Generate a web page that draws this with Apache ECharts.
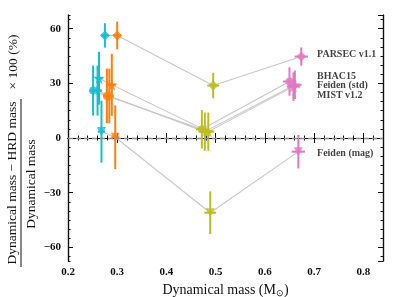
<!DOCTYPE html>
<html><head><meta charset="utf-8">
<script src="https://cdn.jsdelivr.net/npm/echarts@6/dist/echarts.min.js"></script>
<style>html,body{margin:0;padding:0;background:#fff}#c{width:403px;height:297px}</style>
</head><body><div id="c"></div>
<script>
// Models
const models = ['PARSEC v1.1', 'BHAC15', 'Feiden (std)', 'MIST v1.2', 'Feiden (mag)'];
const modelSymbols = ['diamond', 'circle', 'plus', 'star', 'tridown'];
// Stars (components), colours
const starColors = ['#17becf', '#ff7f0e', '#bcbd22', '#e377c2'];
// Dynamical mass per star per model
const massCyan   = [0.275, 0.251, 0.260, 0.263, 0.268];
const massOrange = [0.300, 0.279, 0.284, 0.289, 0.296];
const massOlive  = [0.495, 0.472, 0.478, 0.485, 0.489];
const massPink   = [0.674, 0.650, 0.661, 0.658, 0.668];
// Residual (%) per star per model
const resCyan   = [56.3, 26.0, 26.0, 32.8, 3.5];
const resOrange = [56.3, 23.1, 23.1, 29.2, 0.4];
const resOlive  = [28.8, 4.8, 3.5, 3.5, -41.0];
const resPink   = [44.7, 31.0, 29.2, 28.2, -7.5];
// Errors
const errCyan   = [6.7, 13.7, 13.7, 14.5, 17.0];
const errOrange = [7.6, 15.0, 15.0, 17.0, 17.5];
const errOlive  = [7.0, 10.5, 10.5, 10.5, 11.7];
const errPink   = [5.0, 7.8, 7.8, 7.8, 9.2];
const massErr   = [0.0075, 0.008, 0.012, 0.0135];
// Model label anchors (right-hand annotations)
const labelMass = [0.706, 0.706, 0.706, 0.706, 0.706];
const labelRes  = [45.6, 34.0, 28.6, 23.1, -8.3];
// Axis ticks
const xTicks = [0.2, 0.3, 0.4, 0.5, 0.6, 0.7, 0.8];
const yTicks = [-60, -30, 0, 30, 60];

const masses = [massCyan, massOrange, massOlive, massPink];
const residuals = [resCyan, resOrange, resOlive, resPink];
const errors = [errCyan, errOrange, errOlive, errPink];

const starPath = 'path://M50,0 L61,35 L98,35 L68,57 L79,91 L50,70 L21,91 L32,57 L2,35 L39,35 Z';
const plusPath = 'path://M35,0 L65,0 L65,35 L100,35 L100,65 L65,65 L65,100 L35,100 L35,65 L0,65 L0,35 L35,35 Z';
function sym(s){
  if (s === 'star') return {symbol: starPath, size: 12, rot: 0};
  if (s === 'plus') return {symbol: plusPath, size: 9, rot: 0};
  if (s === 'tridown') return {symbol: 'triangle', size: 9, rot: 180};
  if (s === 'diamond') return {symbol: 'diamond', size: 10, rot: 0};
  return {symbol: 'circle', size: 8, rot: 0};
}

const FONT = 'Liberation Serif';
const tickFmt = v => v < 0 ? '\u2212' + Math.abs(v) : String(v);

const series = [];
// connecting lines
models.forEach((m, mi) => {
  series.push({
    type: 'line', xAxisIndex: 0, yAxisIndex: 0, silent: true, z: 1,
    symbol: 'none',
    lineStyle: {color: '#c8c8c8', width: 1.1},
    data: masses.map((arr, si) => [arr[mi], residuals[si][mi]])
  });
});
// zero line
series.push({
  type: 'line', xAxisIndex: 0, yAxisIndex: 0, data: [], z: 0,
  markLine: {silent: true, symbol: 'none', label: {show: false},
    lineStyle: {color: '#8c8c8c', type: [5, 3], width: 1.4},
    data: [{yAxis: 0}]}
});
// error bars
const errData = [];
masses.forEach((arr, si) => arr.forEach((x, mi) => errData.push([x, residuals[si][mi], massErr[si], errors[si][mi], si])));
series.push({
  type: 'custom', xAxisIndex: 0, yAxisIndex: 0, z: 2,
  data: errData,
  renderItem: function(params, api){
    const x = api.value(0), y = api.value(1), ex = api.value(2), ey = api.value(3), si = api.value(4);
    const c = starColors[si];
    const a = api.coord([x - ex, y]), b = api.coord([x + ex, y]);
    const u = api.coord([x, y + ey]), d = api.coord([x, y - ey]);
    return {type: 'group', children: [
      {type: 'line', shape: {x1: a[0], y1: a[1], x2: b[0], y2: b[1]}, style: {stroke: c, lineWidth: 2}},
      {type: 'line', shape: {x1: u[0], y1: u[1], x2: d[0], y2: d[1]}, style: {stroke: c, lineWidth: 2}}
    ]};
  }
});
// markers
models.forEach((m, mi) => {
  const s = sym(modelSymbols[mi]);
  series.push({
    type: 'scatter', xAxisIndex: 0, yAxisIndex: 0, z: 3,
    symbol: s.symbol, symbolSize: s.size, symbolRotate: s.rot,
    data: masses.map((arr, si) => ({value: [arr[mi], residuals[si][mi]], itemStyle: {color: starColors[si]}}))
  });
});
// model labels
series.push({
  type: 'scatter', xAxisIndex: 0, yAxisIndex: 0, symbolSize: 0, z: 4, silent: true,
  data: models.map((m, i) => ({value: [labelMass[i], labelRes[i]], name: m})),
  label: {show: true, position: 'right', distance: 0, formatter: p => p.name,
    fontFamily: FONT, fontWeight: 'bold', fontSize: 10, color: '#111'}
});

const axLine = {show: true, lineStyle: {color: '#111', width: 1.2}};
function xAx(pos, major, showLabel){
  return {
    type: 'value', position: pos, min: 0.2, max: 0.84,
    interval: major ? 0.1 : 0.02,
    axisLine: axLine,
    axisTick: {show: true, inside: true, length: major ? 5 : 2.5, lineStyle: {color: '#111', width: 1}},
    splitLine: {show: false},
    axisLabel: {show: showLabel, showMaxLabel: false, margin: 6, fontFamily: FONT, fontWeight: 'bold', fontSize: 11, color: '#111',
      formatter: v => xTicks.some(t => Math.abs(t - v) < 1e-6) ? v.toFixed(1) : ''},
    name: showLabel ? 'Dynamical mass (M{s|\u2299})' : '',
    nameLocation: 'middle', nameGap: 22,
    nameTextStyle: {fontFamily: FONT, fontSize: 14, color: '#111',
      rich: {s: {fontFamily: FONT, fontSize: 9, color: '#111', verticalAlign: 'bottom', padding: [6, 0, 0, 0]}}}
  };
}
function yAx(pos, major, showLabel){
  const a = {
    type: 'value', position: pos, min: -67.5, max: 67.5,
    axisLine: axLine,
    axisTick: {show: true, inside: true, length: major ? 5 : 2.5, lineStyle: {color: '#111', width: 1}},
    splitLine: {show: false},
    axisLabel: {show: showLabel, showMinLabel: false, showMaxLabel: false, margin: 7, fontFamily: FONT, fontWeight: 'bold', fontSize: 11, color: '#111',
      formatter: v => yTicks.indexOf(v) >= 0 ? tickFmt(v) : ''}
  };
  a.splitNumber = major ? 5 : 27;
  return a;
}

const option = {
  animation: false,
  backgroundColor: '#fff',
  grid: {left: 68, right: 20, top: 15, bottom: 36, containLabel: false, outerBoundsMode: 'none'},
  xAxis: [xAx('bottom', true, true), xAx('bottom', false, false), xAx('top', true, false), xAx('top', false, false)],
  yAxis: [yAx('left', true, true), yAx('left', false, false), yAx('right', true, false), yAx('right', false, false)],
  series: series,
  graphic: [
    {type: 'text', x: 12, y: 183, rotation: Math.PI / 2,
      style: {text: 'Dynamical mass \u2212 HRD mass', font: '13.5px "Liberation Serif"', fill: '#111', align: 'center', verticalAlign: 'middle'}},
    {type: 'line', shape: {x1: 21, y1: 99, x2: 21, y2: 267}, style: {stroke: '#111', lineWidth: 1}},
    {type: 'text', x: 31, y: 184, rotation: Math.PI / 2,
      style: {text: 'Dynamical mass', font: '13.5px "Liberation Serif"', fill: '#111', align: 'center', verticalAlign: 'middle'}},
    {type: 'text', x: 13, y: 62, rotation: Math.PI / 2,
      style: {text: '\u00d7 100 (%)', font: '13.5px "Liberation Serif"', fill: '#111', align: 'center', verticalAlign: 'middle'}}
  ]
};
echarts.init(document.getElementById('c'), null, {renderer: 'canvas'}).setOption(option);
</script></body></html>
